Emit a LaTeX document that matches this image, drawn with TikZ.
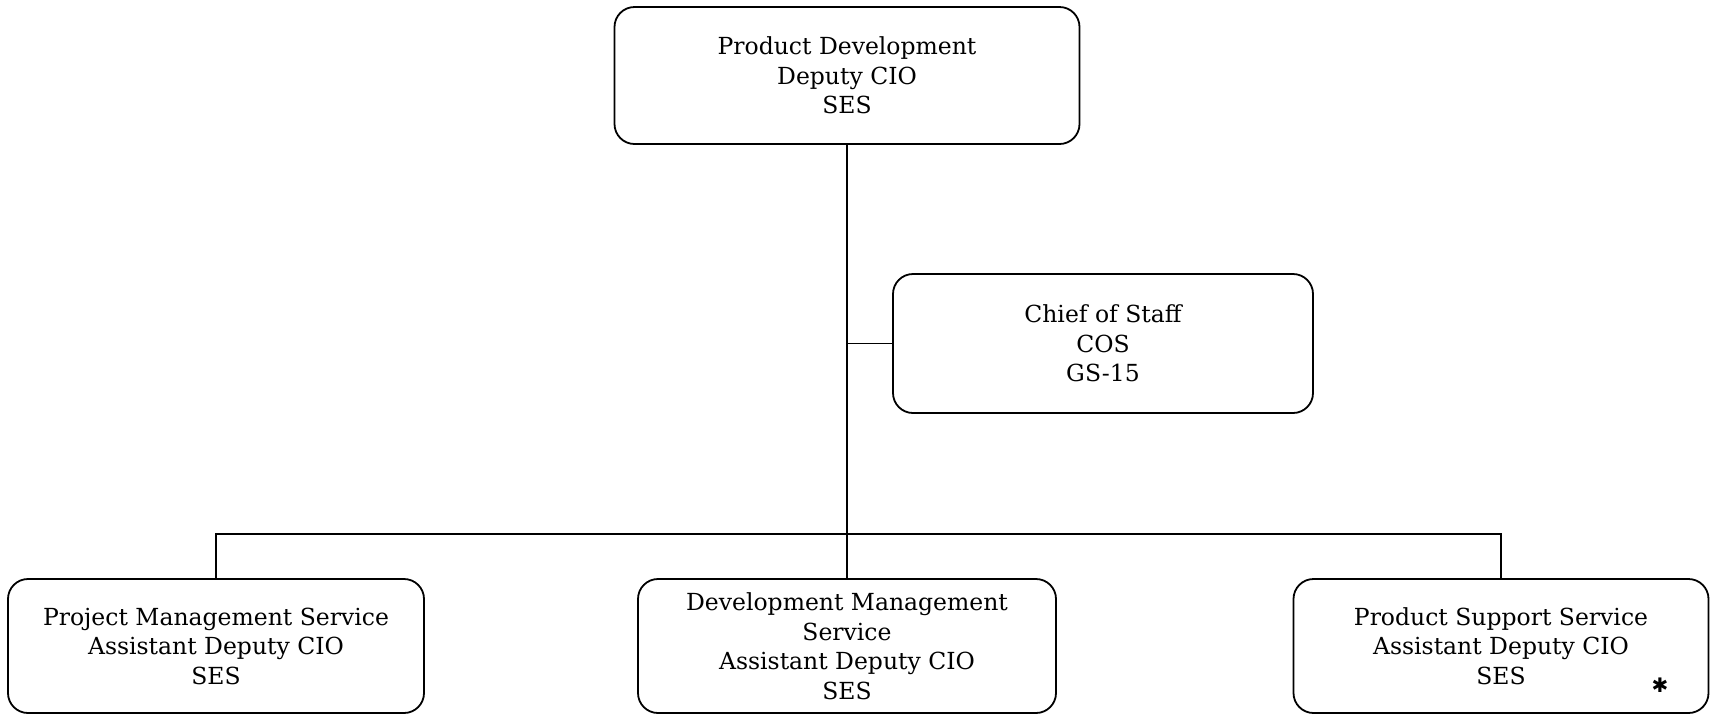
\documentclass[tikz,border=0pt]{standalone}
\usepackage{fontspec}
\setmainfont{DejaVu Serif}
\newfontfamily\symfont{DejaVu Sans}
\begin{document}
\begin{tikzpicture}[x=1pt,y=-1pt,
  orgbox/.style={draw, line width=1.8pt, rounded corners=20pt, align=center,
    font=\fontsize{23.5}{29.5}\selectfont, inner sep=0pt},
  link/.style={line width=1.8pt}]
\useasboundingbox (0,0) rectangle (1710,716);
\fill[white] (0,0) rectangle (1710,716);
\node[orgbox, minimum width=465pt, minimum height=137pt] (top) at (847,75.5)
  {Product Development\\Deputy CIO\\SES};
\node[orgbox, minimum width=420pt, minimum height=139pt] (chief) at (1103,343.5)
  {Chief of Staff\\COS\\GS-15};
\node[orgbox, minimum width=416pt, minimum height=134pt] (pm) at (216,646)
  {Project Management Service\\Assistant Deputy CIO\\SES};
\node[orgbox, minimum width=418pt, minimum height=134pt] (dm) at (847,646)
  {Development Management\\Service\\Assistant Deputy CIO\\SES};
\node[orgbox, minimum width=415pt, minimum height=134pt] (ps) at (1501,646)
  {Product Support Service\\Assistant Deputy CIO\\SES};
\node[font=\symfont\fontsize{20}{20}\selectfont\bfseries] (mark) at (1660,685) {✱};
\coordinate (bus) at (847,534);
\draw[link] (top.south) -- (dm.north);
\draw[link] (chief.west) -- (chief.west -| top.south);
\draw[link] (pm.north) |- (bus) -| (ps.north);
\end{tikzpicture}
\end{document}
